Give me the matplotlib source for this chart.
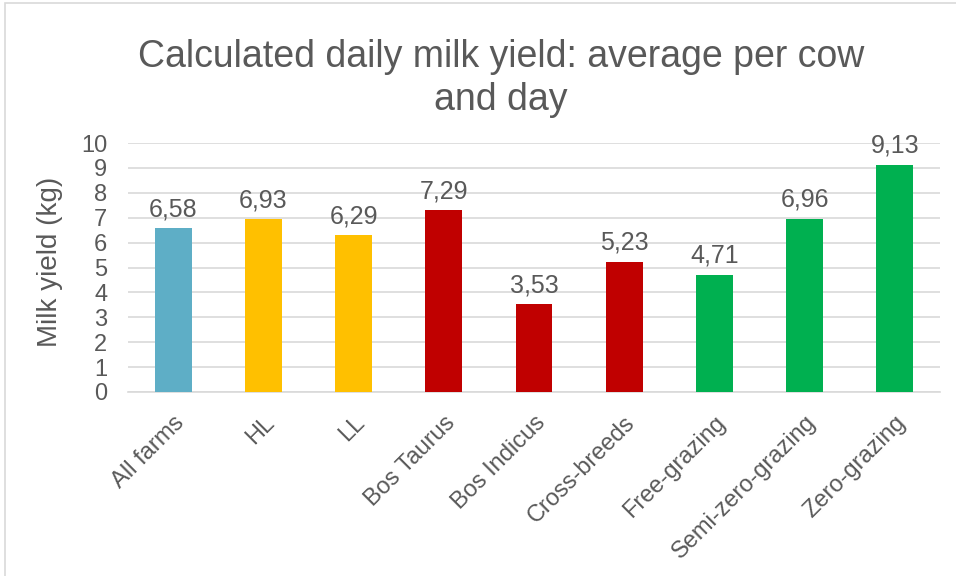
import matplotlib
matplotlib.use("Agg")
import matplotlib.pyplot as plt
from matplotlib.patches import Rectangle

categories = ["All farms", "HL", "LL", "Bos Taurus", "Bos Indicus", "Cross-breeds",
              "Free-grazing", "Semi-zero-grazing", "Zero-grazing"]
values = [6.58, 6.93, 6.29, 7.29, 3.53, 5.23, 4.71, 6.96, 9.13]
colors = ["#5EAEC6", "#FFC000", "#FFC000", "#C00000", "#C00000", "#C00000",
          "#00B050", "#00B050", "#00B050"]
yticks = list(range(0, 11))

plt.rcParams['font.family'] = ['Liberation Sans', 'DejaVu Sans']
TXT = "#595959"

W, H = 956, 576
fig = plt.figure(figsize=(W / 100, H / 100), dpi=100)
fig.patches.append(Rectangle((5 / W, -0.01), 1.0, (576 - 3) / H + 0.01,
                             transform=fig.transFigure, fill=False,
                             edgecolor="#D9D9D9", linewidth=1.2))

ax = fig.add_axes([128 / W, 1 - 392 / H, (940 - 128) / W, (392 - 143) / H])
x = list(range(len(categories)))
ax.bar(x, values, width=0.41, color=colors, zorder=3)
ax.set_xlim(-0.5, len(categories) - 0.5)
ax.set_ylim(0, 10)
ax.set_yticks(yticks)
ax.set_yticklabels([str(t) for t in yticks], fontsize=17, color=TXT)
ax.yaxis.grid(True, color="#D9D9D9", linewidth=1.2, zorder=0)
ax.tick_params(axis='y', length=0, pad=15)
ax.tick_params(axis='x', length=0, pad=14)
for s in ["top", "right", "left"]:
    ax.spines[s].set_visible(False)
ax.spines["bottom"].set_color("#D9D9D9")
ax.spines["bottom"].set_linewidth(1.2)
ax.set_xticks(x)
ax.set_xticklabels(categories, rotation=45, ha="right", rotation_mode="anchor",
                   fontsize=17, color=TXT)
ax.set_ylabel("Milk yield (kg)", fontsize=20, color=TXT)
ax.yaxis.set_label_coords(-65 / (940 - 128), 0.5 + 6 / 249)

for xi, v in zip(x, values):
    ax.annotate(f"{v:.2f}".replace(".", ","), (xi, v), xytext=(0, 5),
                textcoords="offset points", ha="center", va="bottom",
                fontsize=18, color=TXT)

fig.text(501 / W, 1 - 67 / H, "Calculated daily milk yield: average per cow",
         ha="center", va="baseline", fontsize=27, color=TXT)
fig.text(501 / W, 1 - 110 / H, "and day", ha="center", va="baseline",
         fontsize=27, color=TXT)

fig.savefig("out.png", dpi=100, facecolor="white")
